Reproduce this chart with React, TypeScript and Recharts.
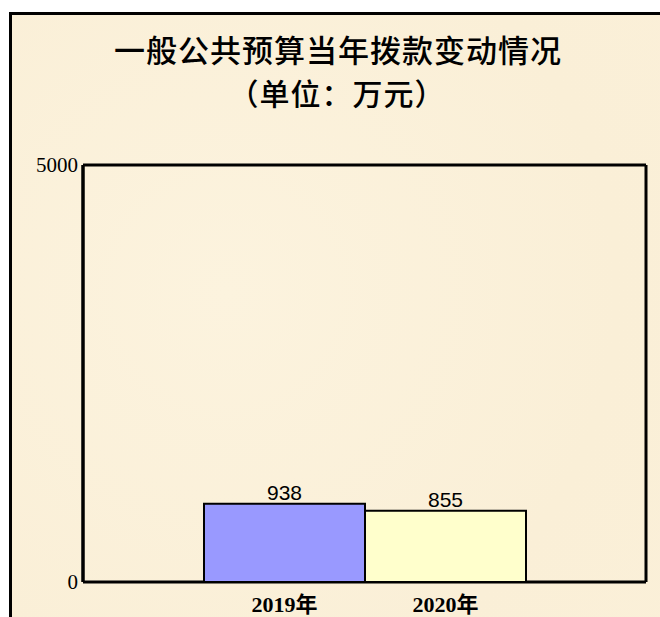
import React from 'react';
import { BarChart, Bar, XAxis, YAxis, CartesianGrid, LabelList } from 'recharts';

// one category group, two years side by side
const years = ['2019年', '2020年'];
const amounts = [938, 855];
const yTicks = [0, 5000];
const barColors = ['#9999FF', '#FFFFCC'];

const data = [{ name: '拨款', y0: amounts[0], y1: amounts[1] }];

const titleFont = '"Noto Sans CJK SC", sans-serif';
const serifFont = '"Liberation Serif", "Noto Sans CJK SC", serif';

// year label drawn under each bar
const yearLabel = (text: string) => (props: any) => {
    const { x, y, width, height } = props;
    return (
        <text
            x={x + width / 2}
            y={y + height + 30}
            textAnchor="middle"
            fontFamily={serifFont}
            fontWeight="bold"
            fontSize={22}
            fill="#000"
        >
            {text}
        </text>
    );
};

const App: React.FC = () => {
    return (
        <div style={{ position: 'absolute', left: 0, top: 0, width: 660, height: 617, background: '#fff', overflow: 'hidden' }}>
            {/* outer frame */}
            <div style={{
                position: 'absolute', left: 9, top: 12, width: 720, height: 700,
                border: '3px solid #000', boxSizing: 'border-box',
                background: 'radial-gradient(circle at 30% 40%, #FCF3DE 0%, #FAEFD7 60%, #FBF0D9 100%)',
            }} />

            <div style={{ position: 'absolute', left: 0, top: 30, width: 676, textAlign: 'center', fontFamily: titleFont, fontWeight: 500, fontSize: 31, lineHeight: '38px', color: '#000', letterSpacing: 1 }}>
                一般公共预算当年拨款变动情况
            </div>
            <div style={{ position: 'absolute', left: 0, top: 73, width: 674, textAlign: 'center', fontFamily: titleFont, fontWeight: 500, fontSize: 30, lineHeight: '38px', color: '#000', letterSpacing: 1 }}>
                （单位：万元）
            </div>

            <div style={{ position: 'absolute', left: 0, top: 0 }}>
                <BarChart
                    width={660}
                    height={617}
                    data={data}
                    margin={{ top: 165, right: 14, bottom: 35, left: 0 }}
                    barGap={0}
                >
                    <CartesianGrid
                        stroke="#000"
                        strokeWidth={3}
                        horizontalCoordinatesGenerator={({ offset }: any) => [offset.top, offset.top + offset.height]}
                        verticalCoordinatesGenerator={({ offset }: any) => [offset.left, offset.left + offset.width]}
                    />
                    <XAxis dataKey="name" height={0} tick={false} tickLine={false} axisLine={{ stroke: '#000', strokeWidth: 3 }} />
                    <YAxis
                        width={83}
                        domain={[0, 5000]}
                        ticks={yTicks}
                        tickLine={false}
                        tickSize={0}
                        tickMargin={5}
                        axisLine={{ stroke: '#000', strokeWidth: 3 }}
                        tick={{ fill: '#000', fontFamily: serifFont, fontSize: 21 }}
                    />
                    <Bar dataKey="y0" barSize={161} fill={barColors[0]} stroke="#000" strokeWidth={2} isAnimationActive={false}>
                        <LabelList dataKey="y0" position="top" offset={4} fill="#000" fontSize={21} fontFamily='"Liberation Sans", Arial, sans-serif' />
                        <LabelList dataKey="y0" content={yearLabel(years[0])} />
                    </Bar>
                    <Bar dataKey="y1" barSize={161} fill={barColors[1]} stroke="#000" strokeWidth={2} isAnimationActive={false}>
                        <LabelList dataKey="y1" position="top" offset={4} fill="#000" fontSize={21} fontFamily='"Liberation Sans", Arial, sans-serif' />
                        <LabelList dataKey="y1" content={yearLabel(years[1])} />
                    </Bar>
                </BarChart>
            </div>
        </div>
    );
};

export default App;
